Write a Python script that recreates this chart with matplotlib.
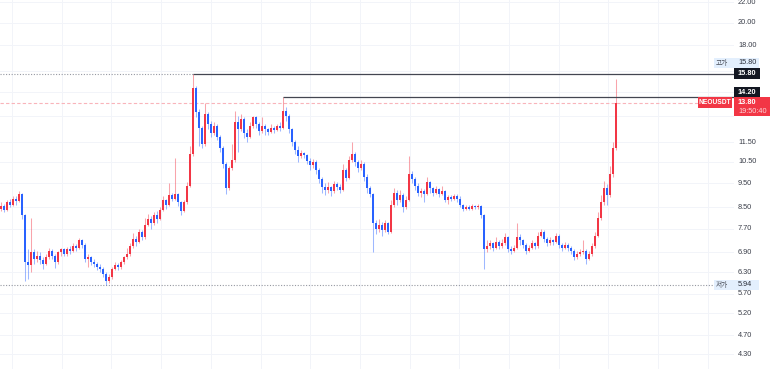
import matplotlib
matplotlib.use('Agg')
import matplotlib.pyplot as plt
from matplotlib.patches import Rectangle
import numpy as np

# ---------------- data ----------------
first_open = 8.45
closes = [8.55, 8.40, 8.70, 8.60, 8.85, 8.75, 9.05, 8.20, 6.60, 6.50,
          6.90, 6.70, 6.80, 6.65, 6.55, 6.75, 6.95, 6.80, 6.60, 6.90,
          7.00, 6.85, 7.00, 6.95, 7.10, 7.05, 7.30, 7.15, 6.70, 6.75,
          6.60, 6.55, 6.45, 6.40, 6.25, 6.05, 6.15, 6.40, 6.50, 6.45,
          6.60, 6.75, 6.85, 7.10, 7.35, 7.25, 7.60, 7.40, 7.85, 8.05,
          7.90, 8.20, 8.05, 8.40, 8.80, 8.60, 9.00, 8.85, 9.05, 8.70,
          8.35, 8.70, 9.40, 10.90, 14.80, 13.20, 12.30, 11.40, 13.10, 12.50,
          12.00, 12.40, 11.80, 11.20, 10.40, 9.30, 10.20, 10.60, 12.60, 12.20,
          12.80, 12.00, 11.80, 12.40, 12.90, 12.50, 12.10, 12.40, 12.20, 12.05,
          12.30, 12.15, 12.40, 12.30, 13.30, 13.00, 12.20, 11.50, 11.10, 10.80,
          10.95, 10.85, 10.55, 10.35, 10.50, 10.10, 9.70, 9.35, 9.20, 9.35,
          9.15, 9.45, 9.35, 9.20, 10.10, 9.75, 10.60, 10.90, 10.50, 10.20,
          10.40, 9.80, 9.30, 9.05, 7.90, 7.70, 7.85, 7.65, 7.90, 7.60,
          8.60, 9.10, 8.80, 9.00, 8.50, 8.80, 9.90, 9.70, 9.40, 9.10,
          9.15, 9.05, 9.55, 9.30, 9.10, 9.25, 9.05, 9.15, 8.80, 8.90,
          8.85, 8.95, 8.85, 8.60, 8.45, 8.50, 8.45, 8.55, 8.50, 8.55,
          8.20, 7.00, 7.10, 7.20, 7.05, 7.25, 7.10, 7.20, 7.40, 7.00,
          6.95, 7.05, 7.40, 7.30, 7.15, 6.95, 7.05, 7.20, 7.10, 7.45,
          7.60, 7.35, 7.20, 7.30, 7.25, 7.45, 7.15, 7.05, 7.15, 7.05,
          6.95, 6.75, 6.85, 6.90, 6.95, 6.70, 6.85, 7.10, 7.45, 8.10,
          8.70, 9.30, 9.00, 9.90, 11.20, 13.80]
highs = [8.70, 8.65, 8.80, 8.85, 8.95, 8.95, 9.15, 9.10, 8.25, 7.00,
         8.10, 7.00, 6.95, 6.90, 6.75, 6.85, 7.05, 7.00, 6.85, 6.95,
         7.05, 7.05, 7.08, 7.10, 7.20, 7.18, 7.38, 7.35, 7.20, 6.85,
         6.80, 6.70, 6.60, 6.55, 6.45, 6.30, 6.25, 6.45, 6.60, 6.58,
         6.65, 6.80, 7.05, 7.20, 7.55, 7.45, 7.70, 7.65, 8.10, 8.25,
         8.15, 8.30, 8.35, 8.50, 8.95, 8.85, 9.50, 9.10, 10.70, 9.10,
         8.75, 8.80, 9.55, 11.30, 15.80, 14.90, 13.40, 12.40, 13.80, 13.20,
         12.70, 12.60, 12.50, 11.90, 11.30, 10.50, 10.30, 11.40, 13.30, 13.00,
         13.10, 12.90, 12.20, 12.60, 13.00, 12.95, 12.60, 12.90, 12.50, 12.30,
         12.50, 12.40, 12.50, 12.60, 14.20, 13.50, 13.10, 12.30, 11.60, 11.30,
         11.10, 11.00, 10.90, 10.70, 10.65, 10.60, 10.20, 9.80, 9.50, 9.55,
         9.40, 9.60, 9.55, 9.45, 10.40, 10.20, 10.80, 11.50, 11.00, 10.60,
         10.60, 10.50, 9.90, 9.40, 9.10, 8.00, 8.05, 7.95, 8.00, 7.95,
         8.80, 9.30, 9.20, 9.20, 9.10, 8.95, 10.80, 10.05, 9.80, 9.50,
         9.30, 9.25, 9.80, 9.60, 9.35, 9.40, 9.30, 9.40, 9.20, 9.00,
         9.00, 9.05, 9.05, 8.95, 8.65, 8.60, 8.58, 8.62, 8.60, 8.62,
         8.60, 8.25, 7.30, 7.30, 7.25, 7.40, 7.30, 7.35, 7.55, 7.45,
         7.10, 7.15, 7.90, 7.50, 7.35, 7.20, 7.15, 7.30, 7.25, 7.60,
         7.70, 7.65, 7.40, 7.40, 7.35, 7.55, 7.50, 7.20, 7.25, 7.20,
         7.10, 7.00, 6.95, 7.00, 7.30, 7.00, 6.95, 7.20, 7.60, 8.30,
         9.00, 9.60, 9.45, 10.30, 11.50, 15.40]
lows = [8.35, 8.30, 8.35, 8.50, 8.55, 8.60, 8.70, 8.05, 6.05, 6.10,
        6.30, 6.55, 6.60, 6.55, 6.40, 6.50, 6.70, 6.70, 6.42, 6.55,
        6.80, 6.78, 6.80, 6.85, 6.90, 6.95, 7.00, 7.05, 6.60, 6.45,
        6.50, 6.45, 6.35, 6.30, 6.15, 5.94, 6.00, 6.10, 6.35, 6.35,
        6.40, 6.55, 6.70, 6.80, 7.05, 7.10, 7.20, 7.30, 7.35, 7.80,
        7.70, 7.85, 7.90, 8.00, 8.35, 8.45, 8.55, 8.75, 8.80, 8.55,
        8.20, 8.30, 8.65, 9.35, 10.80, 12.90, 11.30, 11.20, 11.30, 12.20,
        11.80, 11.90, 11.60, 11.00, 10.20, 9.05, 9.20, 10.10, 10.50, 11.00,
        12.10, 11.70, 11.50, 11.70, 12.30, 12.30, 11.90, 12.00, 11.90, 11.90,
        12.00, 12.00, 12.10, 12.10, 12.20, 12.70, 12.00, 11.30, 10.90, 10.50,
        10.70, 10.70, 10.40, 10.10, 10.20, 9.90, 9.50, 9.10, 9.00, 9.10,
        8.95, 9.10, 9.20, 9.10, 9.15, 9.60, 9.70, 10.50, 10.30, 10.00,
        10.10, 9.60, 9.10, 8.90, 6.90, 7.50, 7.60, 7.45, 7.60, 7.50,
        7.55, 8.50, 8.60, 8.70, 8.30, 8.45, 8.75, 9.50, 9.20, 8.95,
        8.90, 8.70, 9.00, 9.10, 8.95, 9.05, 8.90, 9.00, 8.70, 8.65,
        8.75, 8.80, 8.70, 8.50, 8.35, 8.40, 8.38, 8.40, 8.42, 8.45,
        8.10, 6.40, 6.90, 7.00, 6.95, 7.00, 7.00, 7.05, 7.15, 6.90,
        6.85, 6.90, 7.00, 7.15, 7.05, 6.85, 6.90, 7.00, 7.00, 7.05,
        7.40, 7.25, 7.10, 7.15, 7.15, 7.20, 7.05, 6.95, 7.00, 6.95,
        6.85, 6.65, 6.70, 6.80, 6.85, 6.55, 6.65, 6.80, 7.05, 7.40,
        8.00, 8.60, 8.60, 8.90, 9.80, 11.10]
opens = [first_open] + closes[:-1]

tick_values = [22.00, 20.00, 18.00, 11.50, 10.50, 9.50, 8.50, 7.70, 6.90,
               6.30, 5.70, 5.20, 4.70, 4.30]
hidden_grid = [16.00, 14.50, 13.00]
high_price, high_idx = 15.80, 64
second_high, second_idx = 14.20, 94
low_price = 5.94
last_price = 13.80
symbol = "NEOUSDT"
timer = "19:50:40"
high_label = "고가"
low_label = "저가"

# ---------------- figure ----------------
W, H = 773, 369
fig = plt.figure(figsize=(W / 100, H / 100), dpi=100)
ax = fig.add_axes([0, 0, 1, 1])
ax.set_yscale('log')
ax.set_ylim(4.02, 22.21)
ax.set_xlim(-1 / 3, (W - 1) / 3)
ax.axis('off')

def px2x(px):
    return (px - 1) / 3.0

GRID = '#f2f4f9'
for v in tick_values + hidden_grid:
    ax.axhline(v, xmin=0, xmax=733 / W, color=GRID, lw=0.7, zorder=0)
for k in range(15):
    ax.axvline(px2x(12 + 49.7 * k), color=GRID, lw=0.7, zorder=0)

# candles
UP = '#F23645'
DOWN = '#2962FF'
o = np.array(opens); c = np.array(closes)
hi = np.array(highs); lo = np.array(lows)
idx = np.arange(len(c))
up = c >= o
cols = np.where(up, UP, DOWN)
ax.vlines(idx, lo, hi, colors=cols, lw=0.75, alpha=0.45, zorder=2)
bottom = np.minimum(o, c)
height = np.maximum(np.abs(c - o), bottom * 0.006)
ax.bar(idx, height, bottom=bottom, width=0.6, color=cols, lw=0, zorder=3)

# reference lines
ax.hlines(high_price, px2x(0), high_idx, colors='#9598a1',
          linestyles=(0, (1, 1.5)), lw=0.8, zorder=1)
ax.hlines(high_price, high_idx, px2x(735), colors='#434651', lw=0.9, zorder=4)
ax.hlines(second_high, second_idx, px2x(735), colors='#434651', lw=0.9, zorder=4)
ax.hlines(low_price, px2x(0), px2x(713), colors='#9598a1',
          linestyles=(0, (1, 1.5)), lw=0.8, zorder=1)
ax.hlines(last_price, px2x(0), px2x(698), colors='#f9b4ba',
          linestyles=(0, (3, 2)), lw=0.8, zorder=1)

# tick labels
ytr = ax.get_yaxis_transform()
FONT = 'Liberation Sans'
for v in tick_values:
    ax.text(738 / W, v, f"{v:.2f}", transform=ytr, fontsize=5.3,
            family=FONT, color='#3a3e49', va='center', ha='left')

def box(x0, y0, x1, y1, color):
    r = Rectangle((x0 / W, 1 - y1 / H), (x1 - x0) / W, (y1 - y0) / H,
                  transform=ax.transAxes, facecolor=color, edgecolor='none',
                  clip_on=False, zorder=6)
    ax.add_patch(r)

def txt(px, py, s, color, size=5.3, ha='left', weight='normal', family=None):
    ax.text(px / W, 1 - py / H, s, transform=ax.transAxes, fontsize=size,
            color=color, ha=ha, va='center', weight=weight,
            family=family or [FONT, 'Noto Sans CJK KR'], zorder=7)

CJK = ['Noto Sans CJK KR', 'DejaVu Sans']
# high label
box(714, 58, 759, 68, '#e3effd')
txt(716, 63, high_label, '#4a4e59', size=4.8, family=CJK)
txt(738, 63, f"{high_price:.2f}", '#2a2e39')
box(734, 68.5, 760, 78.5, '#131722')
txt(747, 73.5, f"{high_price:.2f}", 'white', weight='bold', ha='center')
box(734, 87, 760, 97, '#131722')
txt(747, 92, f"{second_high:.2f}", 'white', weight='bold', ha='center')
# last price
box(698, 97, 732, 107.5, UP)
txt(715, 102.3, symbol, 'white', size=4.8, weight='bold', ha='center')
box(734, 97, 770, 116, UP)
txt(738, 102.3, f"{last_price:.2f}", 'white', weight='bold')
txt(738, 111.3, timer, '#fcd6da')
# low label
box(714, 280, 759, 290, '#e3effd')
txt(716, 285, low_label, '#4a4e59', size=4.8, family=CJK)
txt(738, 285, f"{low_price:.2f}", '#2a2e39')

fig.savefig('out.png', dpi=100)
